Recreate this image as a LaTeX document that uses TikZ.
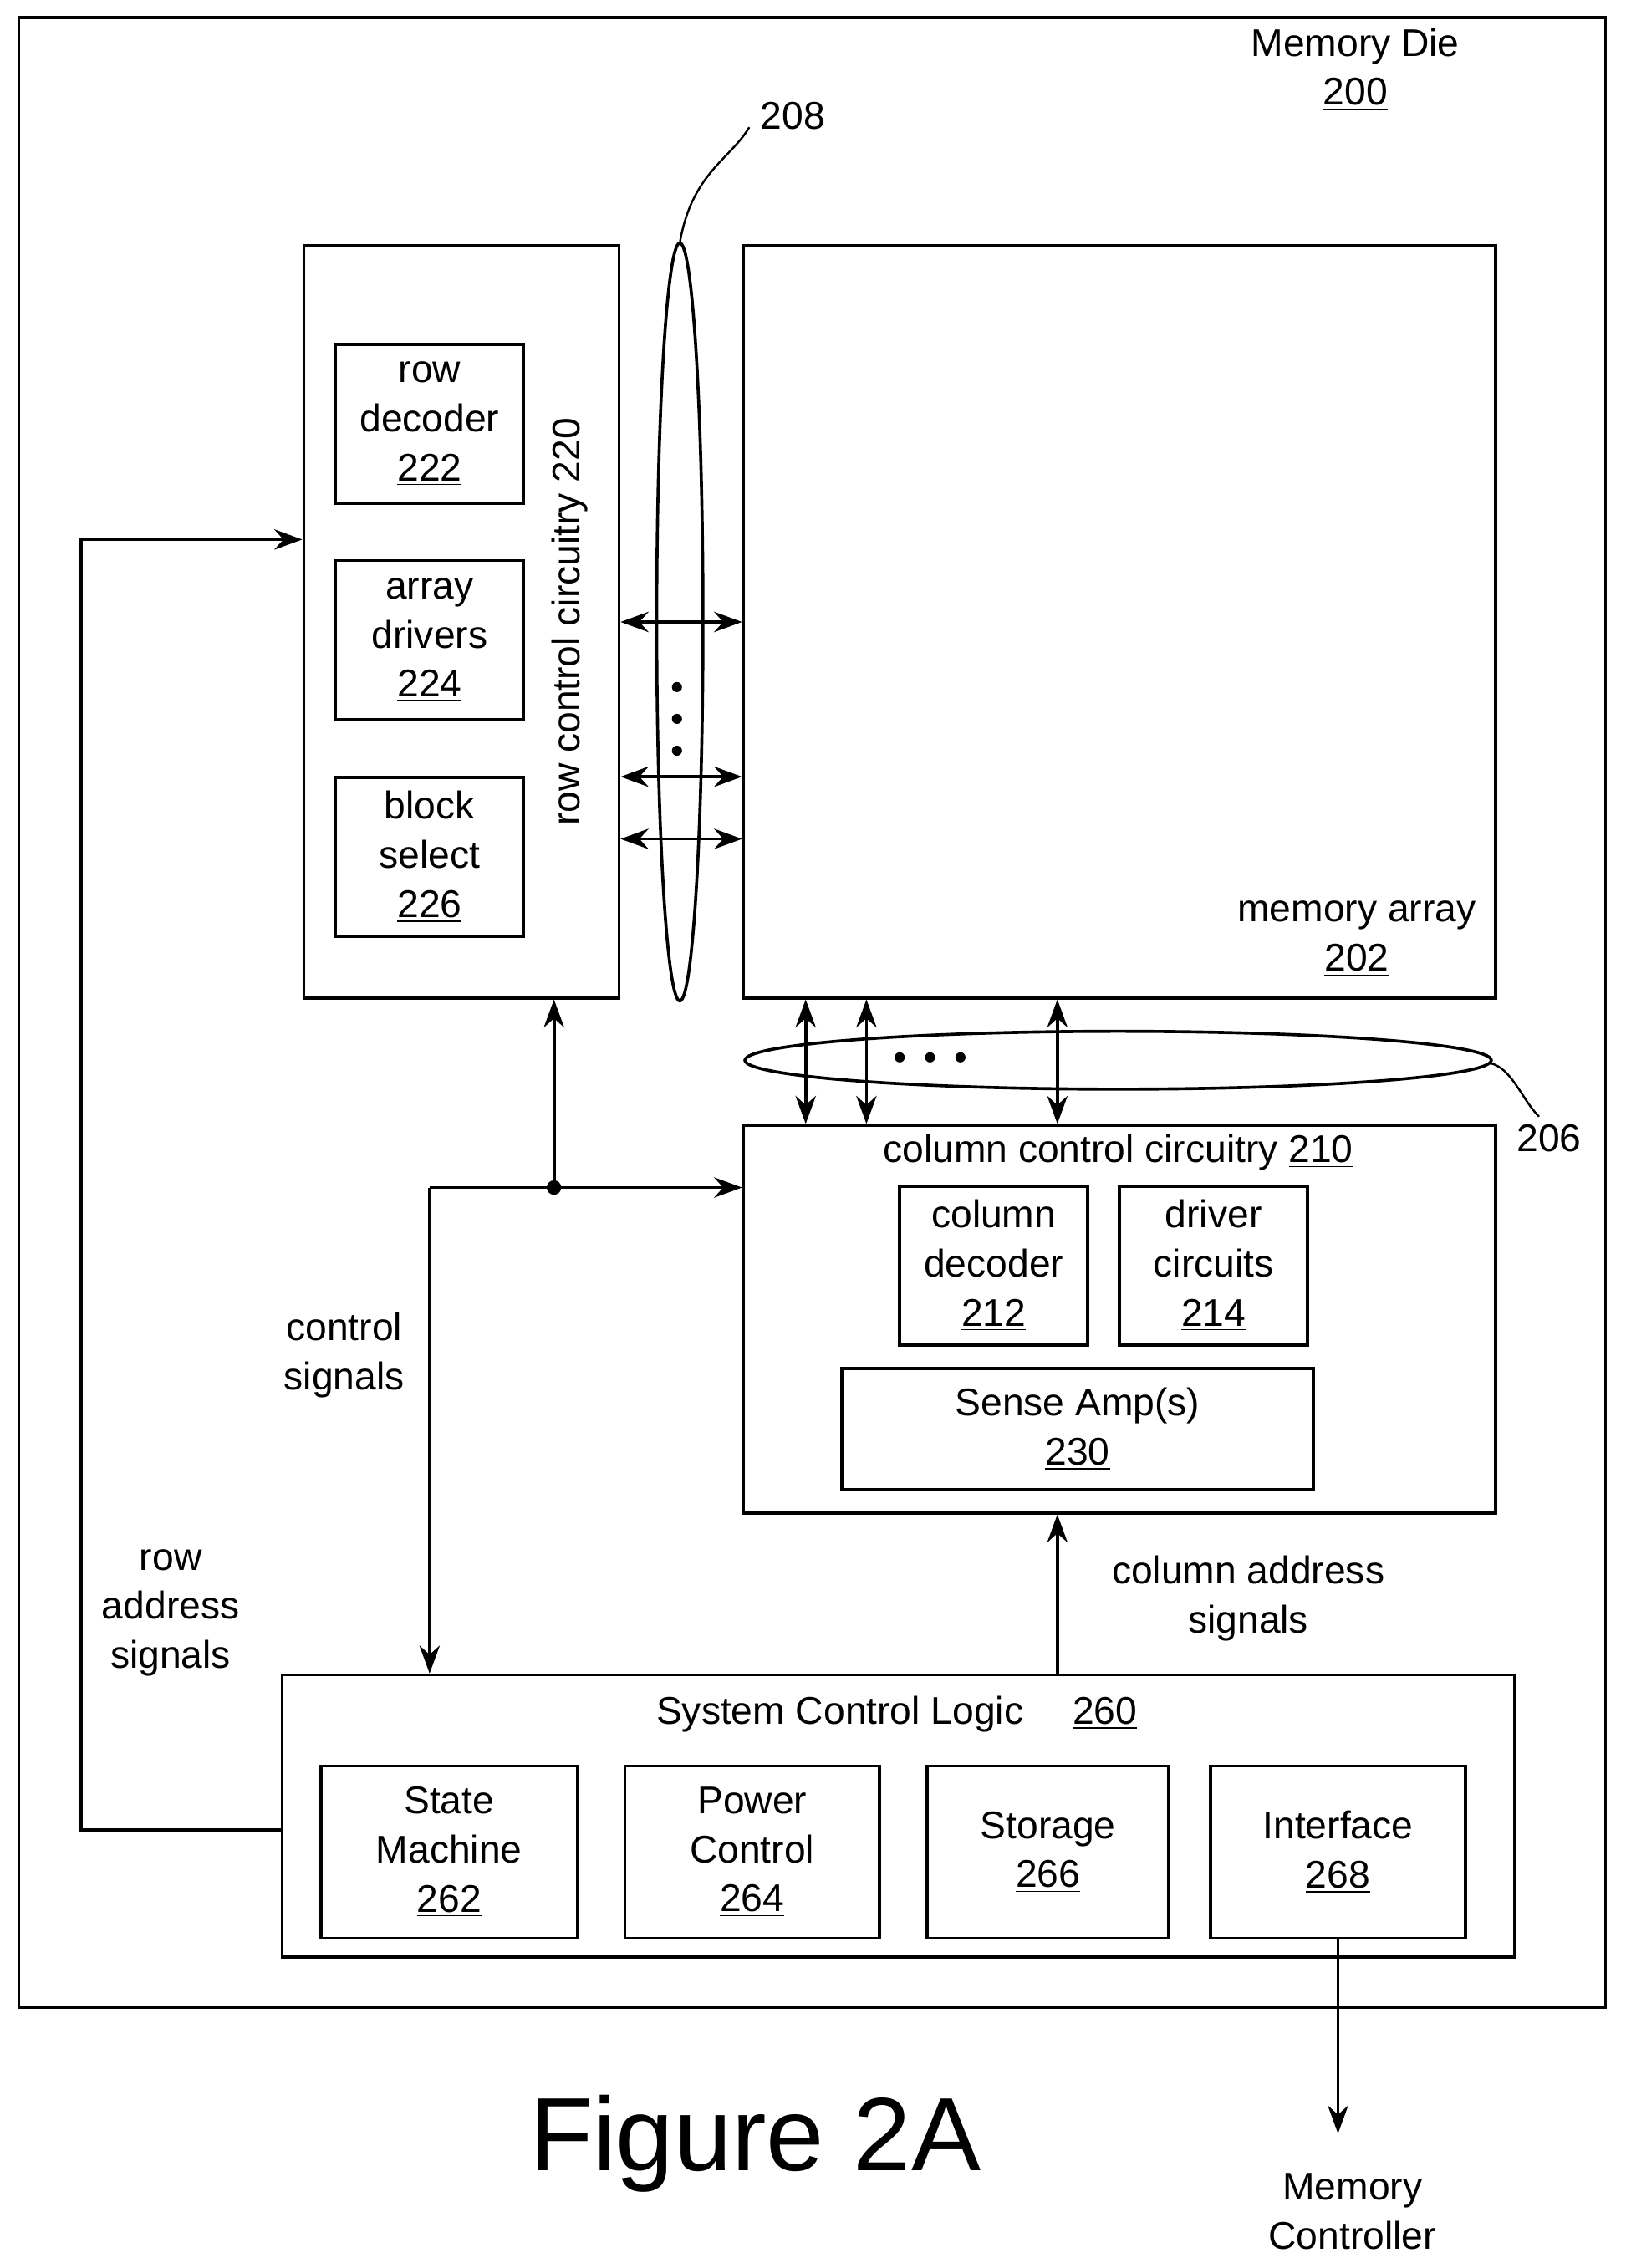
\documentclass[tikz,border=0pt]{standalone}
\usepackage{fontspec}
\setmainfont{Liberation Sans}
\usetikzlibrary{arrows.meta}

\tikzset{
  box/.style={draw, line width=1.2pt, align=center, inner sep=0pt},
  lbl/.style={align=center, inner sep=0pt},
  link/.style={line width=1.2pt},
  >={Stealth[length=11pt,width=8pt]}
}

\begin{document}
\begin{tikzpicture}[x=0.02cm, y=-0.02cm, font=\fontsize{15.2}{19.3}\selectfont]
  \useasboundingbox (0,0) rectangle (1124,1568);
  \draw [line width=1.2pt] (13,12) rectangle (1110,1388);
  \node[lbl] (die) at (937,48) {Memory Die\\\underline{200}};

  % row side
  \node[box, minimum width=4.36cm, minimum height=10.4cm] (rowctl) at (319,430) {};
  \node[lbl, rotate=90] (rowtxt) at (394,430) {row control circuitry \underline{220}};
  \node[box, minimum width=2.6cm, minimum height=2.2cm] (rowdec) at (297,293) {row\\decoder\\\underline{222}};
  \node[box, minimum width=2.6cm, minimum height=2.2cm] (arrdrv) at (297,442.5) {array\\drivers\\\underline{224}};
  \node[box, minimum width=2.6cm, minimum height=2.2cm] (blksel) at (297,592.5) {block\\select\\\underline{226}};

  % array
  \node[box, minimum width=10.4cm, minimum height=10.4cm] (memarr) at (774,430) {};
  \node[lbl] (arrtxt) at (938,649) {memory array\\\underline{202}};

  % word line bus 208
  \draw [link] (470,430) ellipse (16 and 262);
  \foreach \y in {430, 537, 580}
    \draw [link, <->] (rowctl.east |- 0,\y) -- (memarr.west |- 0,\y);
  \foreach \y in {475, 497, 519}
    \fill (468,\y) circle (3.5);
  \node[lbl] (n208) at (548,80) {208};
  \draw [line width=0.8pt] (470,168) .. controls (478,120) and (505,110) .. (518,88);

  % column side
  \node[box, minimum width=10.4cm, minimum height=5.36cm] (colctl) at (774,912) {};
  \node[lbl] (coltxt) at (773,797) {column control circuitry \underline{210}};
  \node[box, minimum width=2.6cm, minimum height=2.2cm] (coldec) at (687,875) {column\\decoder\\\underline{212}};
  \node[box, minimum width=2.6cm, minimum height=2.2cm] (drvcir) at (839,875) {driver\\circuits\\\underline{214}};
  \node[box, minimum width=6.52cm, minimum height=1.68cm] (sense) at (745,988) {Sense Amp(s)\\\underline{230}};

  % bit line bus 206
  \draw [link] (773,733) ellipse (258 and 20);
  \foreach \x in {557, 599, 731}
    \draw [link, <->] (memarr.south -| \x,0) -- (colctl.north -| \x,0);
  \foreach \x in {622, 643, 664}
    \fill (\x,731) circle (3.5);
  \node[lbl] (n206) at (1071,787) {206};
  \draw [line width=0.8pt] (1030,735) .. controls (1045,738) and (1052,760) .. (1064,772);

  % system control logic
  \node[box, minimum width=17.04cm, minimum height=3.9cm] (syslog) at (621,1255.5) {};
  \node[lbl] (systxt) at (620,1185) {System Control Logic \quad\underline{260}};
  \node[box, minimum width=3.54cm, minimum height=2.38cm] (sm) at (310.5,1280.5) {State\\Machine\\\underline{262}};
  \node[box, minimum width=3.52cm, minimum height=2.38cm] (pc) at (520,1280.5) {Power\\Control\\\underline{264}};
  \node[box, minimum width=3.34cm, minimum height=2.38cm] (st) at (724.5,1280.5) {Storage\\\underline{266}};
  \node[box, minimum width=3.52cm, minimum height=2.38cm] (intf) at (925,1280.5) {Interface\\\underline{268}};

  % control signals
  \coordinate (jn) at (383,821);
  \fill (jn) circle (5);
  \draw [link, ->] (jn) -- (rowctl.south -| jn);
  \draw [link, ->] (jn -| 297,0) -- (colctl.west |- jn);
  \draw [link, ->] (jn -| 297,0) -- (syslog.north -| 297,0);
  \node[lbl] (ctltxt) at (238,937) {control\\signals};

  % row address signals
  \draw [link, ->] (syslog.west |- 0,1265) -- (56,1265) -- (56,373) -- (rowctl.west |- 0,373);
  \node[lbl] (rowadr) at (118,1115) {row\\address\\signals};

  % column address signals
  \draw [link, ->] (syslog.north -| 731,0) -- (colctl.south -| 731,0);
  \node[lbl] (coladr) at (863,1105) {column address\\signals};

  % memory controller
  \coordinate (mc) at (925,1475);
  \draw [link, ->] (intf.south) -- (mc);
  \node[lbl] (mctxt) at (935,1529) {Memory\\Controller};

  \node[lbl, font=\fontsize{41}{48}\selectfont] (fig) at (522,1482) {Figure 2A};
\end{tikzpicture}
\end{document}
